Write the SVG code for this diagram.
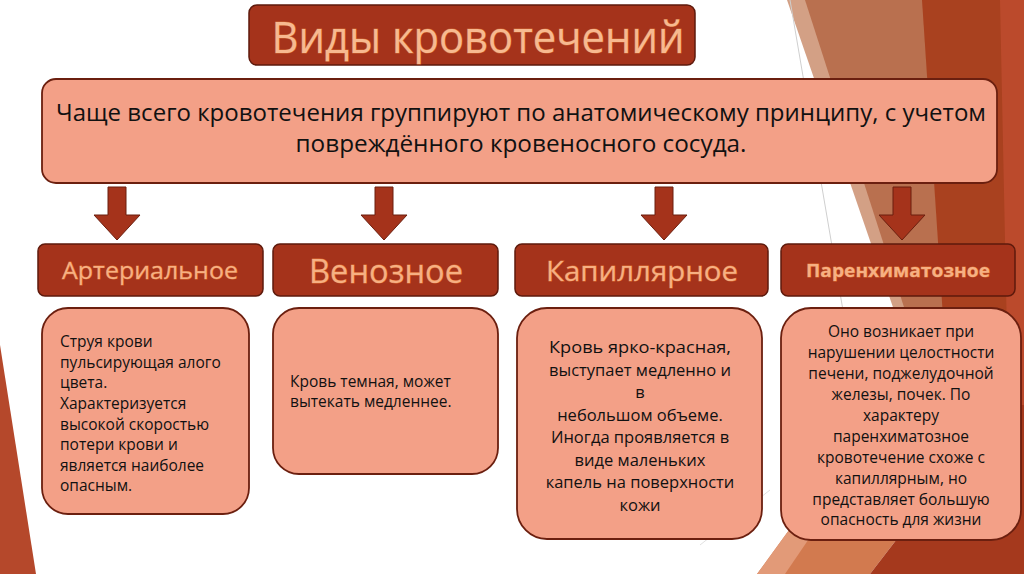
<svg xmlns="http://www.w3.org/2000/svg" width="1024" height="574" viewBox="0 0 1024 574">
<style>
.cat{fill:#a5331b;stroke:#5e1a0c;stroke-width:1.5}
.card{fill:#f3a087;stroke:#6b1f0f;stroke-width:1.8}
.arrow{fill:#a5331b;stroke:#6b1f0f;stroke-width:1}
.title{font-family:"Open Sans","DejaVu Sans",sans-serif;font-size:43px;fill:#f7b990;stroke:#c8602e;stroke-width:1;paint-order:stroke}
.lead{font-family:"Open Sans","DejaVu Sans",sans-serif;font-size:24px;fill:#111}
.cattxt{font-family:"Open Sans","DejaVu Sans",sans-serif;fill:#f6b083;stroke:#d8692f;stroke-width:0.8;paint-order:stroke}
.body{font-family:"Open Sans","DejaVu Sans",sans-serif;font-size:15.5px;fill:#111}
.bodyc{font-family:"Open Sans","DejaVu Sans",sans-serif;font-size:16.5px;fill:#111;font-weight:500}
</style>
<rect width="1024" height="574" fill="#ffffff"/>
<g id="background">
<polygon points="787,0 1024,0 1024,574 985,574" fill="#d3a085"/>
<polygon points="805,0 1024,0 1024,574 990,574" fill="#b9704f"/>
<polygon points="922,0 1024,0 1024,574 960,574" fill="#a9411f"/>
<polygon points="1000,0 1024,0 1024,574 1012,574" fill="#bb4a2c"/>
<polygon points="757,574 880,405 1000,405 870,574" fill="#d27a4f"/>
<polygon points="757,574 880,405 900,405 785,574" fill="#e29a78"/>
<polygon points="870,574 1000,405 1024,405 1024,574" fill="#a5391d"/>
<line x1="790" y1="0" x2="860" y2="410" stroke="#cfcfcf" stroke-width="1"/>
<line x1="700" y1="545" x2="770" y2="490" stroke="#e0e0e0" stroke-width="1"/>
<polygon points="0,345 36,574 0,574" fill="#b5482b"/>
</g>
<g id="title">
<rect x="249" y="5" width="446" height="60" rx="8" class="cat"/>
<text x="478" y="53" text-anchor="middle" class="title" textLength="413" lengthAdjust="spacingAndGlyphs">Виды кровотечений</text>
</g>
<g id="lead">
<rect x="42" y="79" width="955" height="104" rx="14" class="card"/>
<text x="521" y="121" text-anchor="middle" class="lead" textLength="930" lengthAdjust="spacingAndGlyphs">Чаще всего кровотечения группируют по анатомическому принципу, с учетом</text>
<text x="521" y="152" text-anchor="middle" class="lead" textLength="451" lengthAdjust="spacingAndGlyphs">повреждённого кровеносного сосуда.</text>
</g>
<g id="connectors">
<polygon class="arrow" points="108,187 126,187 126,215 140,215 117,240 94,215 108,215"/>
<polygon class="arrow" points="375,187 393,187 393,215 407,215 384,240 361,215 375,215"/>
<polygon class="arrow" points="655,187 673,187 673,215 687,215 664,240 641,215 655,215"/>
<polygon class="arrow" points="893,187 911,187 911,215 925,215 902,240 879,215 893,215"/>
</g>
<g id="arterial">
<rect x="38" y="244" width="225" height="52" rx="7" class="cat"/>
<text x="150" y="279" text-anchor="middle" class="cattxt" font-size="23" textLength="176" lengthAdjust="spacingAndGlyphs">Артериальное</text>
</g>
<g id="venous">
<rect x="273" y="244" width="225" height="52" rx="7" class="cat"/>
<text x="386" y="283" text-anchor="middle" class="cattxt" font-size="32" textLength="154" lengthAdjust="spacingAndGlyphs">Венозное</text>
</g>
<g id="capillary">
<rect x="515" y="244" width="253" height="52" rx="7" class="cat"/>
<text x="642" y="281" text-anchor="middle" class="cattxt" font-size="28" textLength="192" lengthAdjust="spacingAndGlyphs">Капиллярное</text>
</g>
<g id="parenchymal">
<rect x="781" y="244" width="234" height="52" rx="7" class="cat"/>
<text x="898" y="277" text-anchor="middle" class="cattxt" font-size="18" font-weight="bold" textLength="184" lengthAdjust="spacingAndGlyphs">Паренхиматозное</text>
</g>
<g id="arterial-desc">
<rect x="42" y="308" width="207" height="206" rx="26" class="card"/>
<text class="body" x="60" y="347">Струя крови</text>
<text class="body" x="60" y="367.5">пульсирующая алого</text>
<text class="body" x="60" y="388">цвета.</text>
<text class="body" x="60" y="409">Характеризуется</text>
<text class="body" x="60" y="429.5">высокой скоростью</text>
<text class="body" x="60" y="450">потери крови и</text>
<text class="body" x="60" y="471">является наиболее</text>
<text class="body" x="60" y="491">опасным.</text>
</g>
<g id="venous-desc">
<rect x="273" y="308" width="225" height="166" rx="26" class="card"/>
<text class="body" x="290" y="387">Кровь темная, может</text>
<text class="body" x="290" y="407">вытекать медленнее.</text>
</g>
<g id="capillary-desc">
<rect x="517" y="308" width="245" height="231" rx="30" class="card"/>
<g text-anchor="middle" class="bodyc">
<text x="640" y="353" textLength="182" lengthAdjust="spacingAndGlyphs">Кровь ярко-красная,</text>
<text x="640" y="375.5">выступает медленно и</text>
<text x="640" y="398">в</text>
<text x="640" y="420.5">небольшом объеме.</text>
<text x="640" y="443">Иногда проявляется в</text>
<text x="640" y="465.5">виде маленьких</text>
<text x="640" y="488">капель на поверхности</text>
<text x="640" y="510.5">кожи</text>
</g>
</g>
<g id="parenchymal-desc">
<rect x="781" y="308" width="240" height="232" rx="30" class="card"/>
<g text-anchor="middle" class="body">
<text x="901" y="337">Оно возникает при</text>
<text x="901" y="358">нарушении целостности</text>
<text x="901" y="379">печени, поджелудочной</text>
<text x="901" y="400">железы, почек. По</text>
<text x="901" y="421">характеру</text>
<text x="901" y="442">паренхиматозное</text>
<text x="901" y="463">кровотечение схоже с</text>
<text x="901" y="484">капиллярным, но</text>
<text x="901" y="505">представляет большую</text>
<text x="901" y="525">опасность для жизни</text>
</g>
</g>
</svg>
